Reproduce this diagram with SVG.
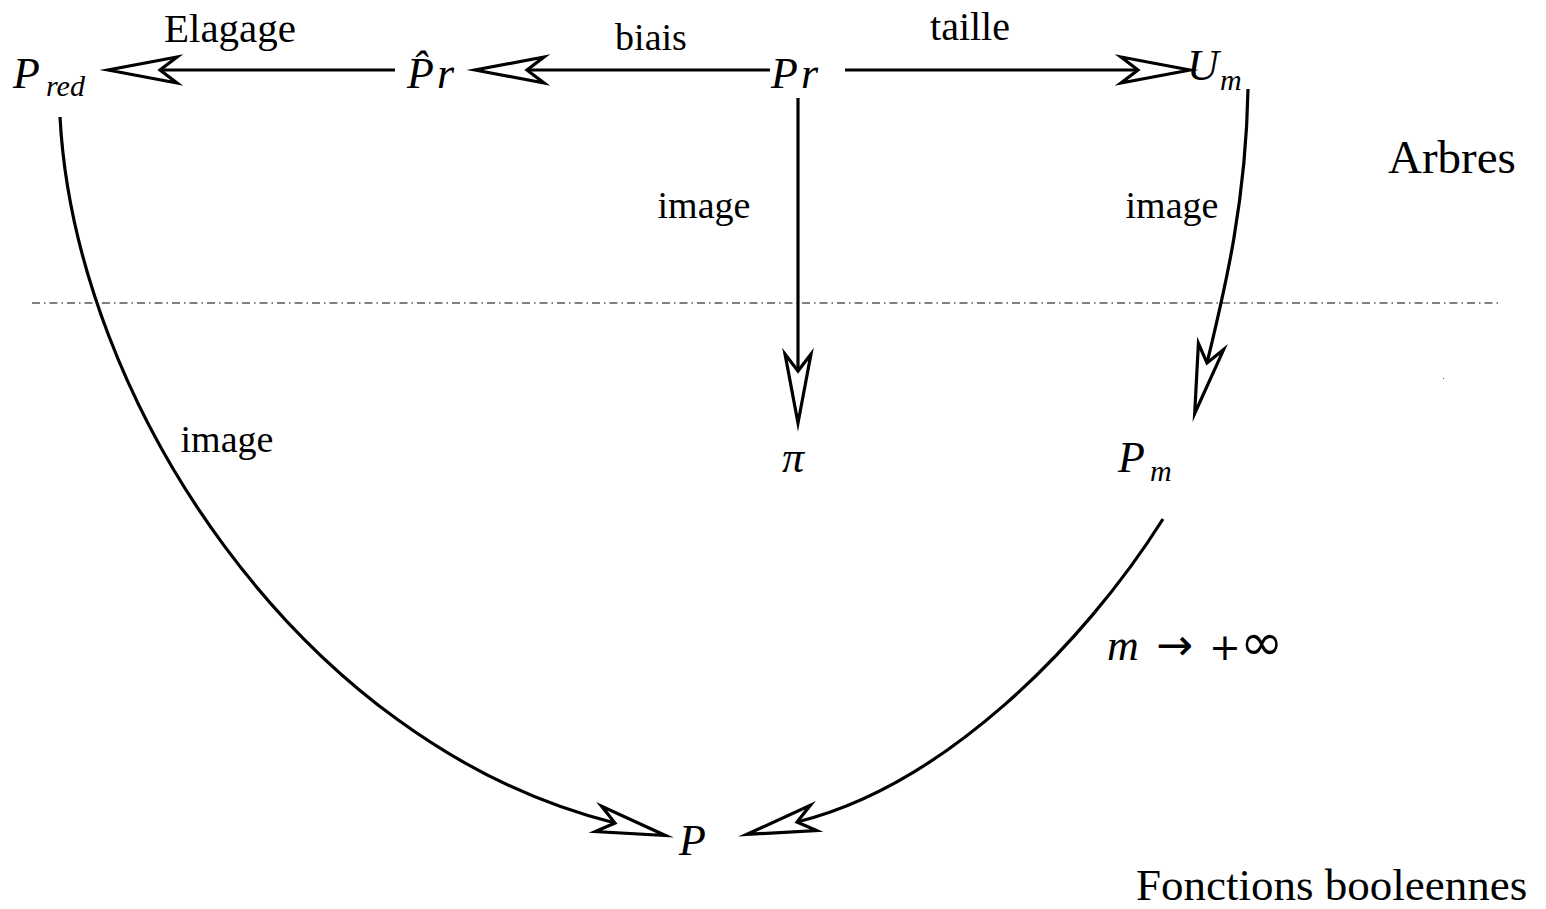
<svg xmlns="http://www.w3.org/2000/svg" width="1546" height="909" viewBox="0 0 1546 909">
<style>
.lbl{font-family:"Liberation Serif","Times New Roman",serif;font-size:38px;fill:#000}
.big{font-family:"Liberation Serif","Times New Roman",serif;font-size:45px;fill:#000}
.m{font-family:"Liberation Serif","Times New Roman",serif;font-style:italic;font-size:44px;fill:#000}
.sub{font-family:"Liberation Serif","Times New Roman",serif;font-style:italic;font-size:30px;fill:#000}
.sym{font-family:"DejaVu Sans",sans-serif;font-size:38px;fill:#000}
.edge{fill:none;stroke:#000;stroke-width:3.2;marker-end:url(#ah)}
</style>
<defs>
<marker id="ah" markerUnits="userSpaceOnUse" viewBox="-22 -17 78 34" markerWidth="78" markerHeight="34" refX="0" refY="0" orient="auto" overflow="visible">
<path d="M52,0 L-17,-13 L0,0 L-17,13 Z" fill="#fff" stroke="#000" stroke-width="3.2" stroke-miterlimit="10"/>
</marker>
</defs>
<rect width="1546" height="909" fill="#fff"/>
<line x1="32" y1="303" x2="1500" y2="303" stroke="#000" stroke-width="1" stroke-dasharray="8 4 1.5 4"/>
<rect x="1443" y="378" width="1" height="1" fill="#555"/>
<g id="connectors">
<path class="edge" d="M395,70 L160,70"/>
<path class="edge" d="M770,70 L527,70"/>
<path class="edge" d="M845,70 L1138,70"/>
<path class="edge" d="M798,98 L798,371"/>
<path class="edge" d="M1248,89 C1246,200 1226,285 1207,363"/>
<path class="edge" d="M60,117 C75,400 300,745 615,823"/>
<path class="edge" d="M1163,519 C1083,646 943,786 797,822"/>
</g>
<g id="edge-labels">
<text class="lbl" x="230" y="42" text-anchor="middle" style="font-size:41px">Elagage</text>
<text class="lbl" x="651" y="50" text-anchor="middle">biais</text>
<text class="lbl" x="970" y="40" text-anchor="middle" style="font-size:40px">taille</text>
<text class="lbl" x="704" y="218" text-anchor="middle">image</text>
<text class="lbl" x="1172" y="218" text-anchor="middle">image</text>
<text class="lbl" x="227" y="452" text-anchor="middle">image</text>
<text y="660"><tspan class="m" x="1107">m</tspan><tspan class="sym" x="1156" style="font-size:44px">→</tspan><tspan class="sym" x="1209">+</tspan><tspan class="sym" x="1240" style="font-size:52px">∞</tspan></text>
</g>
<g id="node-Pred"><text class="m" x="13" y="88">P</text><text class="sub" x="46" y="96">red</text></g>
<g id="node-Prhat"><text class="m" x="407" y="88">P̂<tspan x="437">r</tspan></text></g>
<g id="node-Pr"><text class="m" x="771" y="88">P<tspan x="801">r</tspan></text></g>
<g id="node-Um"><text class="m" x="1187" y="80">U</text><text class="sub" x="1220" y="90">m</text></g>
<g id="node-pi"><text class="m" x="782" y="472">π</text></g>
<g id="node-Pm"><text class="m" x="1118" y="472">P</text><text class="sub" x="1150" y="481">m</text></g>
<g id="node-P"><text class="m" x="679" y="855">P</text></g>
<g id="regions">
<text class="big" x="1388" y="173" style="font-size:47px">Arbres</text>
<text class="big" x="1136" y="900">Fonctions booleennes</text>
</g>
</svg>
